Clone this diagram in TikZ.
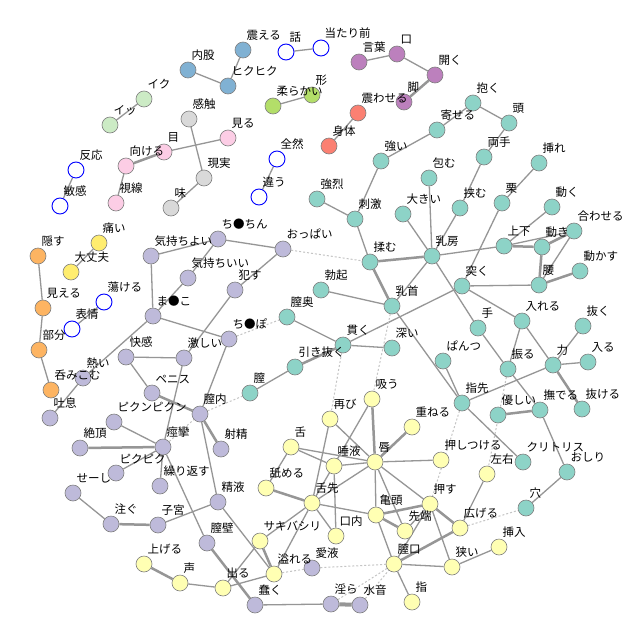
\documentclass[tikz,border=0pt]{standalone}
\usepackage{fontspec}
\newfontfamily\jp{Noto Sans CJK JP}
\usetikzlibrary{backgrounds}
\pgfdeclarelayer{front}
\pgfsetlayers{background,main,front}
\definecolor{edgegray} {HTML}{969696}
\definecolor{dotgray}  {HTML}{C4C4C4}
\definecolor{nodeline} {HTML}{7F7F7F}
\definecolor{grpteal}  {HTML}{8DD3C7}
\definecolor{grplav}   {HTML}{BEBADA}
\definecolor{grpyel}   {HTML}{FFFFB3}
\definecolor{grpsteel} {HTML}{80B1D3}
\definecolor{grporange}{HTML}{FDB462}
\definecolor{grplime}  {HTML}{B3DE69}
\definecolor{grppink}  {HTML}{FCCDE5}
\definecolor{grpgray}  {HTML}{D9D9D9}
\definecolor{grppurple}{HTML}{BC80BD}
\definecolor{grpmint}  {HTML}{CCEBC5}
\definecolor{grpgold}  {HTML}{FFED6F}
\definecolor{grpsalmon}{HTML}{FB8072}
\tikzset{
  lb/.style={anchor=south west,xshift=3.5pt,yshift=1pt,inner sep=0pt,font=\jp\fontsize{11.5}{13}\selectfont},
  word/.style={circle,draw=nodeline,line width=0.6pt,minimum size=16pt,inner sep=0pt,
    append after command={\pgfextra{\begin{pgfonlayer}{front}\node[lb] at (\tikzlastnode.north) {#1};\end{pgfonlayer}}}},
  wteal/.style={word=#1,fill=grpteal},
  wlav/.style={word=#1,fill=grplav},
  wyel/.style={word=#1,fill=grpyel},
  wsteel/.style={word=#1,fill=grpsteel},
  worange/.style={word=#1,fill=grporange},
  wlime/.style={word=#1,fill=grplime},
  wpink/.style={word=#1,fill=grppink},
  wgray/.style={word=#1,fill=grpgray},
  wpurple/.style={word=#1,fill=grppurple},
  wmint/.style={word=#1,fill=grpmint},
  wgold/.style={word=#1,fill=grpgold},
  wsalmon/.style={word=#1,fill=grpsalmon},
  wring/.style={word=#1,fill=white,draw=blue,line width=0.9pt},
  link/.style={draw=edgegray,line width=1.3pt},
  linkb/.style={draw=edgegray,line width=2.5pt},
  linkbb/.style={draw=edgegray,line width=4pt},
  cross/.style={draw=dotgray,line width=1pt,dash pattern=on 2pt off 2pt}
}
\begin{document}
\begin{tikzpicture}[x=1pt,y=-1pt]
\useasboundingbox (0,0) rectangle (640,640);
% small groups
\node[wring=話] (hanashi) at (286,52) {};
\node[wring=当たり前] (atarimae) at (321,48) {};
\node[wring=全然] (zenzen) at (277,159) {};
\node[wring=違う] (chigau) at (259,197) {};
\node[wring=反応] (hanno) at (76,170) {};
\node[wring=敏感] (binkan) at (60,206) {};
\node[wring=蕩ける] (torokeru) at (104,302) {};
\node[wring=表情] (hyojo) at (72,329) {};
\node[wsteel=震える] (furueru) at (243,50) {};
\node[wsteel=内股] (uchimata) at (188,70) {};
\node[wsteel=ヒクヒク] (hikuhiku) at (228,86) {};
\node[wmint=イク] (iku) at (144,99) {};
\node[wmint=イッ] (ikk) at (110,125) {};
\node[wlime=柔らかい] (yawarakai) at (273,106) {};
\node[wlime=形] (katachi) at (312,95) {};
\node[wgray=感触] (kanshoku) at (189,119) {};
\node[wgray=現実] (genjitsu) at (204,178) {};
\node[wgray=味] (aji) at (171,208) {};
\node[wpink=見る] (miru) at (228,138) {};
\node[wpink=目] (me) at (164,152) {};
\node[wpink=向ける] (mukeru) at (126,166) {};
\node[wpink=視線] (shisen) at (116,203) {};
\node[wpurple=言葉] (kotoba) at (359,62) {};
\node[wpurple=口] (kuchi) at (397,54) {};
\node[wpurple=開く] (hiraku) at (435,75) {};
\node[wpurple=脚] (ashi) at (404,102) {};
\node[wsalmon=震わせる] (furuwaseru) at (358,113) {};
\node[wsalmon=身体] (karada) at (329,146) {};
\node[worange=隠す] (kakusu) at (38,256) {};
\node[worange=見える] (mieru) at (43,308) {};
\node[worange=部分] (bubun) at (39,350) {};
\node[worange=呑みこむ] (nomikomu) at (51,390) {};
\node[wgold=痛い] (itai) at (99,243) {};
\node[wgold=大丈夫] (daijobu) at (71,272) {};
% teal group
\node[wteal=抱く] (daku) at (473,103) {};
\node[wteal=頭] (atama) at (509,123) {};
\node[wteal=寄せる] (yoseru) at (437,130) {};
\node[wteal=強い] (tsuyoi) at (381,161) {};
\node[wteal=両手] (ryote) at (484,157) {};
\node[wteal=挿れ] (ire) at (539,163) {};
\node[wteal=包む] (tsutsumu) at (429,178) {};
\node[wteal=強烈] (kyoretsu) at (317,199) {};
\node[wteal=刺激] (shigeki) at (355,219) {};
\node[wteal=大きい] (ookii) at (403,214) {};
\node[wteal=挟む] (hasamu) at (460,208) {};
\node[wteal=栗] (kuri) at (502,203) {};
\node[wteal=動く] (ugoku) at (552,207) {};
\node[wteal=合わせる] (awaseru) at (574,231) {};
\node[wteal=上下] (joge) at (504,246) {};
\node[wteal=動き] (ugoki) at (542,247) {};
\node[wteal=揉む] (momu) at (370,262) {};
\node[wteal=乳房] (chibusa) at (432,256) {};
\node[wteal=動かす] (ugokasu) at (580,271) {};
\node[wteal=腰] (koshi) at (539,285) {};
\node[wteal=突く] (tsuku) at (462,286) {};
\node[wteal=勃起] (bokki) at (321,290) {};
\node[wteal=乳首] (chikubi) at (392,306) {};
\node[wteal=膣奥] (chitsuoku) at (287,317) {};
\node[wteal=入れる] (ireru) at (522,321) {};
\node[wteal=抜く] (nuku) at (583,326) {};
\node[wteal=手] (te) at (478,328) {};
\node[wteal=貫く] (tsuranuku) at (343,345) {};
\node[wteal=深い] (fukai) at (392,348) {};
\node[wteal=ぱんつ] (pantsu) at (443,361) {};
\node[wteal=入る] (hairu) at (588,362) {};
\node[wteal=力] (chikara) at (553,365) {};
\node[wteal=振る] (furu) at (508,369) {};
\node[wteal=引き抜く] (hikinuku) at (295,367) {};
\node[wteal=膣] (chitsu) at (250,393) {};
\node[wteal=指先] (yubisaki) at (462,403) {};
\node[wteal=撫でる] (naderu) at (540,410) {};
\node[wteal=抜ける] (nukeru) at (582,409) {};
\node[wteal=優しい] (yasashii) at (498,415) {};
\node[wteal=クリトリス] (clit) at (523,462) {};
\node[wteal=おしり] (oshiri) at (567,472) {};
\node[wteal=穴] (ana) at (526,508) {};
% lavender group
\node[wlav=ち●ちん] (chinchin) at (218,239) {};
\node[wlav=気持ちよい] (kimochiyoi) at (151,256) {};
\node[wlav=おっぱい] (oppai) at (283,249) {};
\node[wlav=気持ちいい] (kimochiii) at (188,278) {};
\node[wlav=犯す] (okasu) at (235,290) {};
\node[wlav=ま●こ] (manko) at (153,316) {};
\node[wlav=ち●ぽ] (chinpo) at (229,339) {};
\node[wlav=快感] (kaikan) at (126,357) {};
\node[wlav=激しい] (hageshii) at (184,358) {};
\node[wlav=熱い] (atsui) at (83,378) {};
\node[wlav=ペニス] (penis) at (152,393) {};
\node[wlav=膣内] (chitsunai) at (200,414) {};
\node[wlav=吐息] (toiki) at (50,418) {};
\node[wlav=ピクンピクン] (pikunpikun) at (114,422) {};
\node[wlav=絶頂] (zeccho) at (80,448) {};
\node[wlav=痙攣] (keiren) at (163,447) {};
\node[wlav=射精] (shasei) at (221,449) {};
\node[wlav=ピクピク] (pikupiku) at (116,473) {};
\node[wlav=繰り返す] (kurikaesu) at (160,486) {};
\node[wlav=せーし] (seeshi) at (73,493) {};
\node[wlav=精液] (seieki) at (218,502) {};
\node[wlav=注ぐ] (sosogu) at (111,524) {};
\node[wlav=子宮] (shikyu) at (158,525) {};
\node[wlav=膣壁] (chitsuheki) at (207,543) {};
\node[wlav=蠢く] (ugomeku) at (255,605) {};
\node[wlav=愛液] (aieki) at (312,568) {};
\node[wlav=淫ら] (midara) at (331,604) {};
\node[wlav=水音] (mizuoto) at (360,605) {};
% yellow group
\node[wyel=吸う] (suu) at (372,399) {};
\node[wyel=再び] (futatabi) at (330,419) {};
\node[wyel=重ねる] (kasaneru) at (412,427) {};
\node[wyel=舌] (shita) at (291,447) {};
\node[wyel=押しつける] (oshitsukeru) at (441,460) {};
\node[wyel=唇] (kuchibiru) at (375,462) {};
\node[wyel=唾液] (daeki) at (334,466) {};
\node[wyel=左右] (sayu) at (487,474) {};
\node[wyel=舐める] (nameru) at (266,488) {};
\node[wyel=舌先] (shitasaki) at (312,503) {};
\node[wyel=押す] (osu) at (430,504) {};
\node[wyel=亀頭] (kito) at (376,515) {};
\node[wyel=広げる] (hirogeru) at (460,528) {};
\node[wyel=先端] (sentan) at (405,531) {};
\node[wyel=口内] (konai) at (336,536) {};
\node[wyel=サキバシリ] (sakibashiri) at (260,541) {};
\node[wyel=挿入] (sonyu) at (499,547) {};
\node[wyel=上げる] (ageru) at (144,564) {};
\node[wyel=膣口] (chitsuguchi) at (394,564) {};
\node[wyel=狭い] (semai) at (452,567) {};
\node[wyel=溢れる] (afureru) at (274,574) {};
\node[wyel=声] (koe) at (180,583) {};
\node[wyel=出る] (deru) at (223,588) {};
\node[wyel=指] (yubi) at (412,602) {};
\begin{scope}[on background layer]
\fill[white] (0,0) rectangle (640,640);
\draw[link] (hanashi) -- (atarimae);
\draw[link] (zenzen) -- (chigau);
\draw[link] (hanno) -- (binkan);
\draw[link] (torokeru) -- (hyojo);
\draw[link] (uchimata) -- (hikuhiku);
\draw[link] (hikuhiku) -- (furueru);
\draw[link] (iku) -- (ikk);
\draw[link] (yawarakai) -- (katachi);
\draw[link] (kanshoku) -- (genjitsu);
\draw[link] (genjitsu) -- (aji);
\draw[link] (miru) -- (me);
\draw[linkb] (me) -- (mukeru);
\draw[link] (mukeru) -- (shisen);
\draw[link] (kotoba) -- (kuchi);
\draw[link] (kuchi) -- (hiraku);
\draw[linkb] (hiraku) -- (ashi);
\draw[link] (furuwaseru) -- (karada);
\draw[link] (kakusu) -- (mieru);
\draw[link] (mieru) -- (bubun);
\draw[link] (bubun) -- (nomikomu);
\draw[link] (itai) -- (daijobu);
% teal links
\draw[link] (daku) -- (atama);
\draw[link] (daku) -- (yoseru);
\draw[link] (yoseru) -- (tsuyoi);
\draw[link] (tsuyoi) -- (shigeki);
\draw[link] (kyoretsu) -- (shigeki);
\draw[link] (atama) -- (ryote);
\draw[link] (ryote) -- (hasamu);
\draw[link] (hasamu) -- (chibusa);
\draw[link] (tsutsumu) -- (chibusa);
\draw[link] (ookii) -- (chibusa);
\draw[link] (shigeki) -- (momu);
\draw[linkb] (momu) -- (chibusa);
\draw[linkb] (momu) -- (chikubi);
\draw[link] (chibusa) -- (chikubi);
\draw[link] (chibusa) -- (joge);
\draw[link] (chibusa) -- (te);
\draw[link] (ire) -- (kuri);
\draw[link] (kuri) -- (tsuku);
\draw[link] (ugoku) -- (joge);
\draw[linkb] (joge) -- (ugoki);
\draw[link] (joge) -- (awaseru);
\draw[linkb] (ugoki) -- (awaseru);
\draw[linkb] (ugoki) -- (koshi);
\draw[link] (awaseru) -- (koshi);
\draw[linkb] (koshi) -- (ugokasu);
\draw[link] (tsuku) -- (koshi);
\draw[link] (tsuku) -- (ireru);
\draw[link] (tsuku) -- (tsuranuku);
\draw[link] (bokki) -- (chikubi);
\draw[link] (chikubi) -- (yubisaki);
\draw[link] (chitsuoku) -- (tsuranuku);
\draw[link] (tsuranuku) -- (fukai);
\draw[linkb] (tsuranuku) -- (hikinuku);
\draw[link] (chitsu) -- (hikinuku);
\draw[link] (te) -- (furu);
\draw[link] (ireru) -- (furu);
\draw[link] (ireru) -- (chikara);
\draw[link] (chikara) -- (nuku);
\draw[link] (chikara) -- (hairu);
\draw[linkb] (chikara) -- (nukeru);
\draw[link] (chikara) -- (yubisaki);
\draw[link] (pantsu) -- (yubisaki);
\draw[link] (furu) -- (naderu);
\draw[linkb] (naderu) -- (yasashii);
\draw[link] (naderu) -- (oshiri);
\draw[link] (yubisaki) -- (clit);
\draw[link] (oshiri) -- (ana);
% lavender links
\draw[link] (kimochiyoi) -- (chinchin);
\draw[link] (chinchin) -- (oppai);
\draw[link] (chinchin) -- (kimochiii);
\draw[link] (kimochiii) -- (manko);
\draw[link] (kimochiyoi) -- (manko);
\draw[link] (manko) -- (atsui);
\draw[link] (atsui) -- (toiki);
\draw[link] (oppai) -- (okasu);
\draw[link] (okasu) -- (hageshii);
\draw[link] (manko) -- (chinpo);
\draw[link] (chinpo) -- (chitsunai);
\draw[link] (kaikan) -- (hageshii);
\draw[link] (kaikan) -- (penis);
\draw[linkb] (penis) -- (chitsunai);
\draw[link] (hageshii) -- (keiren);
\draw[link] (pikunpikun) -- (keiren);
\draw[linkb] (zeccho) -- (keiren);
\draw[link] (pikupiku) -- (keiren);
\draw[link] (kurikaesu) -- (keiren);
\draw[link] (keiren) -- (chitsuheki);
\draw[linkb] (chitsunai) -- (shasei);
\draw[link] (chitsunai) -- (seieki);
\draw[link] (seieki) -- (shikyu);
\draw[linkb] (shikyu) -- (sosogu);
\draw[link] (sosogu) -- (seeshi);
\draw[link] (seieki) -- (afureru);
\draw[linkb] (chitsuheki) -- (ugomeku);
\draw[link] (ugomeku) -- (midara);
\draw[linkbb] (midara) -- (mizuoto);
% yellow links
\draw[link] (suu) -- (shitasaki);
\draw[link] (futatabi) -- (shitasaki);
\draw[link] (futatabi) -- (kuchibiru);
\draw[linkb] (suu) -- (kuchibiru);
\draw[link] (shita) -- (kuchibiru);
\draw[link] (shita) -- (daeki);
\draw[link] (shita) -- (nameru);
\draw[linkb] (nameru) -- (shitasaki);
\draw[link] (daeki) -- (kuchibiru);
\draw[link] (daeki) -- (konai);
\draw[link] (kuchibiru) -- (shitasaki);
\draw[link] (kuchibiru) -- (kito);
\draw[link] (kuchibiru) -- (sentan);
\draw[link] (kuchibiru) -- (osu);
\draw[link] (kuchibiru) -- (oshitsukeru);
\draw[linkb] (kuchibiru) -- (kasaneru);
\draw[link] (shitasaki) -- (kito);
\draw[link] (shitasaki) -- (konai);
\draw[link] (shitasaki) -- (sakibashiri);
\draw[link] (shitasaki) -- (afureru);
\draw[linkb] (kito) -- (sentan);
\draw[linkb] (kito) -- (osu);
\draw[link] (kito) -- (chitsuguchi);
\draw[link] (sentan) -- (osu);
\draw[link] (osu) -- (chitsuguchi);
\draw[linkb] (osu) -- (hirogeru);
\draw[link] (osu) -- (semai);
\draw[linkb] (hirogeru) -- (chitsuguchi);
\draw[link] (chitsuguchi) -- (semai);
\draw[link] (semai) -- (sonyu);
\draw[link] (chitsuguchi) -- (yubi);
\draw[link] (sayu) -- (hirogeru);
\draw[linkb] (sakibashiri) -- (afureru);
\draw[link] (sakibashiri) -- (deru);
\draw[link] (afureru) -- (deru);
\draw[link] (deru) -- (koe);
\draw[linkb] (koe) -- (ageru);
% links across groups
\draw[cross] (oppai) -- (momu);
\draw[cross] (chinpo) -- (chitsuoku);
\draw[cross] (keiren) -- (chitsunai);
\draw[cross] (chitsunai) -- (chitsu);
\draw[cross] (chikubi) -- (suu);
\draw[cross] (tsuranuku) -- (futatabi);
\draw[cross] (furu) -- (sayu);
\draw[cross] (yubisaki) -- (osu);
\draw[cross] (hirogeru) -- (ana);
\draw[cross] (afureru) -- (aieki);
\draw[cross] (aieki) -- (chitsuguchi);
\draw[cross] (midara) -- (chitsuguchi);
\draw[cross] (mizuoto) -- (chitsuguchi);
\end{scope}
\end{tikzpicture}
\end{document}
